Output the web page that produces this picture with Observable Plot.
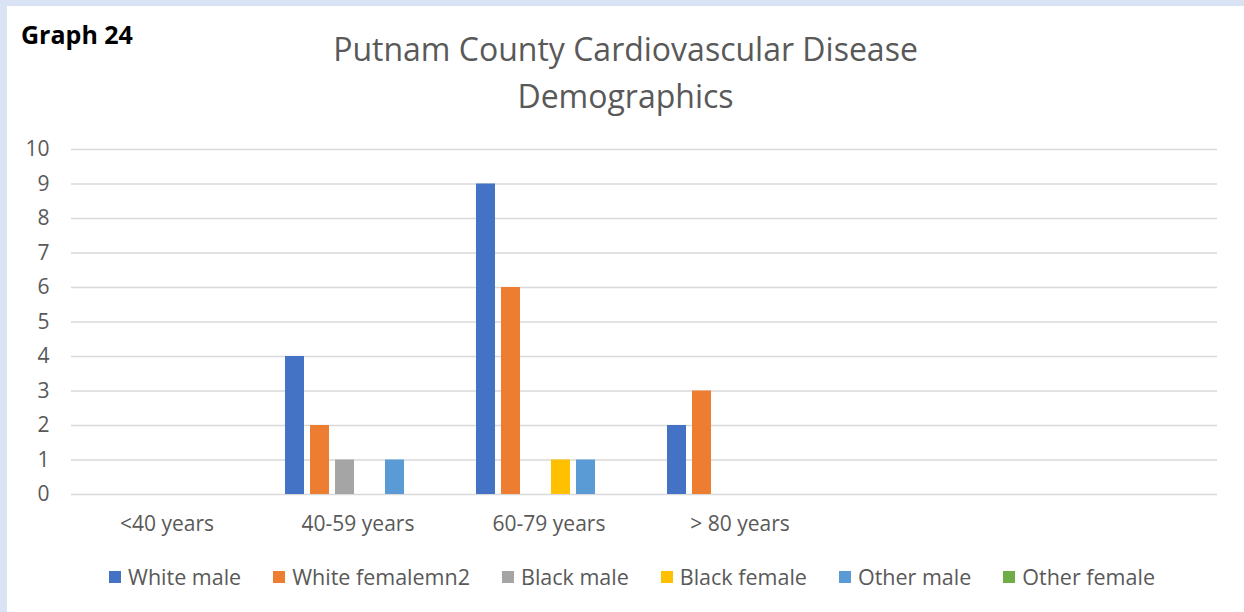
<!DOCTYPE html>
<html>
<head>
<meta charset="utf-8">
<script src="https://cdn.jsdelivr.net/npm/d3@7"></script>
<script src="https://cdn.jsdelivr.net/npm/@observablehq/plot@0.6"></script>
<style>
  html, body { margin: 0; padding: 0; }
  body { width: 1244px; height: 612px; background: #dae3f3; position: relative; overflow: hidden; font-family: "Open Sans", sans-serif; }
  #panel { position: absolute; left: 7px; top: 6px; width: 1237px; height: 606px; background: #ffffff; }
  #graphlabel { position: absolute; left: 14px; top: 11px; font-weight: bold; font-size: 25px; color: #000; }
  #title { position: absolute; left: 0; width: 1237px; top: 19px; text-align: center; font-size: 32px; line-height: 47px; color: #595959; }
  #chart { position: absolute; left: 0; top: 124px; }
  #legend { position: absolute; left: 0; width: 1250px; top: 556px; display: flex; justify-content: center; gap: 32px; font-size: 21.5px; color: #595959; }
  .item { display: flex; align-items: center; gap: 7px; }
  .sw { width: 12px; height: 12px; display: inline-block; }
</style>
</head>
<body>
<div id="panel">
  <div id="graphlabel">Graph 24</div>
  <div id="title">Putnam County Cardiovascular Disease<br>Demographics</div>
  <div id="chart"></div>
  <div id="legend"></div>
</div>
<script>
const categories = ["<40 years", "40-59 years", "60-79 years", "> 80 years", "", ""];
const series = ["White male", "White femalemn2", "Black male", "Black female", "Other male", "Other female"];
const colors = ["#4472c4", "#ed7d31", "#a5a5a5", "#ffc000", "#5b9bd5", "#70ad47"];
const whiteMale      = [0, 4, 9, 2, 0, 0];
const whiteFemale    = [0, 2, 6, 3, 0, 0];
const blackMale      = [0, 1, 0, 0, 0, 0];
const blackFemale    = [0, 0, 1, 0, 0, 0];
const otherMale      = [0, 1, 1, 0, 0, 0];
const otherFemale    = [0, 0, 0, 0, 0, 0];
const yTicks = [0, 1, 2, 3, 4, 5, 6, 7, 8, 9, 10];

const seriesValues = [whiteMale, whiteFemale, blackMale, blackFemale, otherMale, otherFemale];
const data = [];
categories.forEach((c, i) => {
  series.forEach((s, j) => {
    data.push({cat: i, series: s, value: seriesValues[j][i]});
  });
});

const chart = Plot.plot({
  width: 1237,
  height: 410,
  marginLeft: 64,
  marginRight: 27,
  marginTop: 19,
  marginBottom: 46,
  style: {fontFamily: "Open Sans, sans-serif", fontSize: "21px", color: "#595959", background: "transparent"},
  fx: {domain: d3.range(categories.length), paddingInner: 0, paddingOuter: 0, label: null},
  x: {domain: series, paddingInner: 0.235, paddingOuter: 0.863, axis: null},
  y: {domain: [0, 10], label: null},
  color: {domain: series, range: colors},
  marks: [
    Plot.gridY(yTicks, {stroke: "#d9d9d9", strokeOpacity: 1, strokeWidth: 1.5}),
    Plot.axisY(yTicks, {tickSize: 0, tickPadding: 22, label: null, fill: "#595959"}),
    Plot.axisFx({anchor: "bottom", tickSize: 0, tickPadding: 22, label: null, fill: "#595959", tickFormat: i => categories[i]}),
    Plot.barY(data, {fx: "cat", x: "series", y: "value", fill: "series"})
  ]
});
document.getElementById("chart").appendChild(chart);

const legend = document.getElementById("legend");
series.forEach((s, j) => {
  const item = document.createElement("div");
  item.className = "item";
  const sw = document.createElement("span");
  sw.className = "sw";
  sw.style.background = colors[j];
  const t = document.createElement("span");
  t.textContent = s;
  item.appendChild(sw);
  item.appendChild(t);
  legend.appendChild(item);
});
</script>
</body>
</html>
